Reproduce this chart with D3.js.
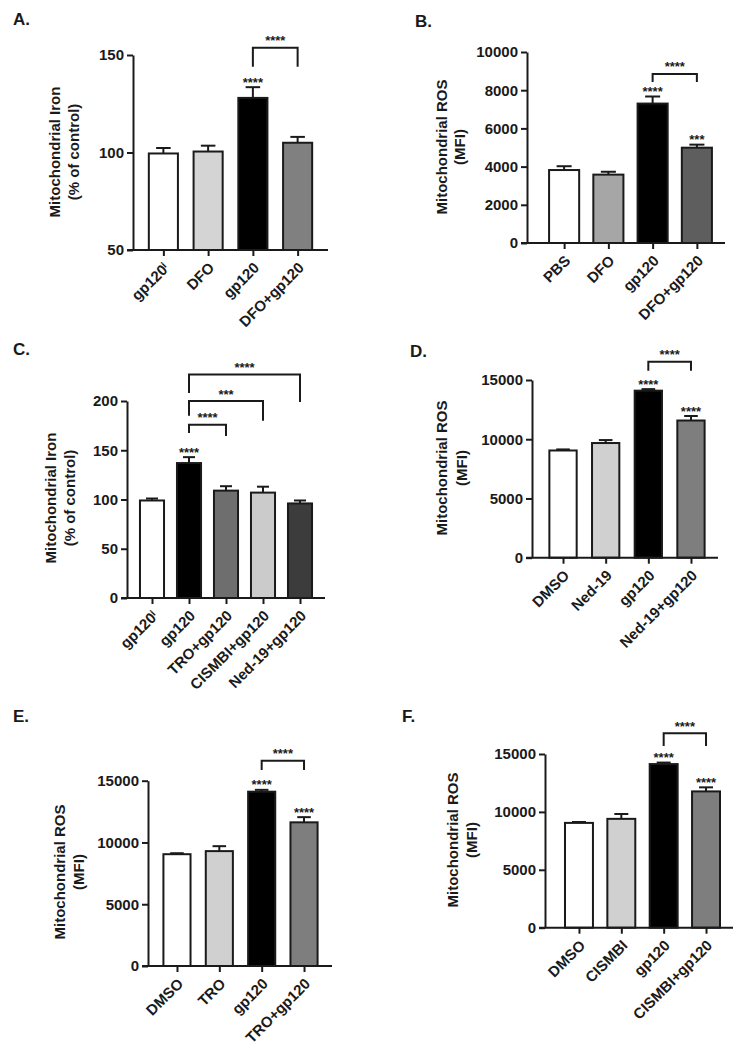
<!DOCTYPE html>
<html lang="en">
<head>
<meta charset="utf-8">
<title>Mitochondrial iron and ROS</title>
<script src="https://cdn.jsdelivr.net/npm/d3@7"></script>
<style>
  body { margin: 0; background: #fff; }
  svg text { font-family: "Liberation Sans", Arial, sans-serif; font-weight: bold; fill: #1a1a1a; }
</style>
</head>
<body>
<script>
// ---- data ----
// A. mitochondrial iron, DFO
var catsA = ["gp120ⁱ", "DFO", "gp120", "DFO+gp120"];
var valsA = [99.5, 100.5, 128, 105];
var errA = [2.8, 3, 5.5, 3];
var starsA = ["", "", "****", ""];
var ticksA = [50, 100, 150];
var ylabA = ["Mitochondrial Iron", "(% of control)"];
var bracketsA = [{from: 2, to: 3, top: 153.7, left: 144, right: 144, label: "****"}];

// B. mitochondrial ROS, DFO
var catsB = ["PBS", "DFO", "gp120", "DFO+gp120"];
var valsB = [3820, 3580, 7300, 4990];
var errB = [200, 150, 370, 160];
var starsB = ["", "", "****", "***"];
var ticksB = [0, 2000, 4000, 6000, 8000, 10000];
var ylabB = ["Mitochondrial ROS", "(MFI)"];
var bracketsB = [{from: 2, to: 3, top: 8850, left: 8430, right: 8430, label: "****"}];

// C. mitochondrial iron, TRO / CISMBI / Ned-19
var catsC = ["gp120ⁱ", "gp120", "TRO+gp120", "CISMBI+gp120", "Ned-19+gp120"];
var valsC = [99, 137, 109, 107, 96];
var errC = [2, 6, 4.5, 6, 3];
var starsC = ["", "****", "", "", ""];
var ticksC = [0, 50, 100, 150, 200];
var ylabC = ["Mitochondrial Iron", "(% of control)"];
var bracketsC = [
  {from: 1, to: 2, top: 176, left: 167.5, right: 164.5, label: "****"},
  {from: 1, to: 3, top: 200, left: 185, right: 180, label: "***"},
  {from: 1, to: 4, top: 227, left: 208, right: 199, label: "****"}
];

// D. mitochondrial ROS, Ned-19
var catsD = ["DMSO", "Ned-19", "gp120", "Ned-19+gp120"];
var valsD = [9050, 9680, 14100, 11580];
var errD = [90, 250, 130, 380];
var starsD = ["", "", "****", "****"];
var ticksD = [0, 5000, 10000, 15000];
var ylabD = ["Mitochondrial ROS", "(MFI)"];
var bracketsD = [{from: 2, to: 3, top: 16550, left: 15790, right: 15790, label: "****"}];

// E. mitochondrial ROS, TRO
var catsE = ["DMSO", "TRO", "gp120", "TRO+gp120"];
var valsE = [9050, 9300, 14110, 11630];
var errE = [80, 400, 150, 420];
var starsE = ["", "", "****", "****"];
var ticksE = [0, 5000, 10000, 15000];
var ylabE = ["Mitochondrial ROS", "(MFI)"];
var bracketsE = [{from: 2, to: 3, top: 16620, left: 15870, right: 15870, label: "****"}];

// F. mitochondrial ROS, CISMBI
var catsF = ["DMSO", "CISMBI", "gp120", "CISMBI+gp120"];
var valsF = [9050, 9400, 14130, 11770];
var errF = [80, 420, 130, 350];
var starsF = ["", "", "****", "****"];
var ticksF = [0, 5000, 10000, 15000];
var ylabF = ["Mitochondrial ROS", "(MFI)"];
var bracketsF = [{from: 2, to: 3, top: 16790, left: 15690, right: 15690, label: "****"}];

// ---- layout ----
var ink = "#1a1a1a";
var svg = d3.select("body").append("svg")
            .attr("width", 750)
            .attr("height", 1050);
svg.append("rect").attr("width", 750).attr("height", 1050).attr("fill", "#fff");

var panels = [
  {letter: "A.", lx: 13, ly: 25, cats: catsA, vals: valsA, err: errA, stars: starsA, ticks: ticksA, ylab: ylabA, brackets: bracketsA,
   colors: ["#ffffff", "#d4d4d4", "#000000", "#808080"],
   domain: [50, 150], y0: 250, y1: 55, ax: 133, xEnd: 328, x0: 141, x1: 320, barFrac: 0.65,
   lab1: 55, lab2: 74, labY: 152},
  {letter: "B.", lx: 415, ly: 27, cats: catsB, vals: valsB, err: errB, stars: starsB, ticks: ticksB, ylab: ylabB, brackets: bracketsB,
   colors: ["#ffffff", "#a6a6a6", "#000000", "#5e5e5e"],
   domain: [0, 10000], y0: 243, y1: 52, ax: 527, xEnd: 725, x0: 542, x1: 719, barFrac: 0.68,
   lab1: 442, lab2: 460, labY: 147},
  {letter: "C.", lx: 13, ly: 355, cats: catsC, vals: valsC, err: errC, stars: starsC, ticks: ticksC, ylab: ylabC, brackets: bracketsC,
   colors: ["#ffffff", "#000000", "#6e6e6e", "#cbcbcb", "#3c3c3c"],
   domain: [0, 200], y0: 598, y1: 401, ax: 127, xEnd: 325, x0: 133.5, x1: 318.5, barFrac: 0.65,
   lab1: 51, lab2: 70, labY: 498},
  {letter: "D.", lx: 410, ly: 357, cats: catsD, vals: valsD, err: errD, stars: starsD, ticks: ticksD, ylab: ylabD, brackets: bracketsD,
   colors: ["#ffffff", "#d0d0d0", "#000000", "#7e7e7e"],
   domain: [0, 15000], y0: 557.7, y1: 380, ax: 532, xEnd: 718, x0: 541.7, x1: 712.3, barFrac: 0.64,
   lab1: 442, lab2: 462, labY: 468},
  {letter: "E.", lx: 13, ly: 722, cats: catsE, vals: valsE, err: errE, stars: starsE, ticks: ticksE, ylab: ylabE, brackets: bracketsE,
   colors: ["#ffffff", "#d0d0d0", "#000000", "#7e7e7e"],
   domain: [0, 15000], y0: 966, y1: 780.7, ax: 148, xEnd: 332, x0: 155.8, x1: 325.2, barFrac: 0.64,
   lab1: 60, lab2: 79, labY: 872},
  {letter: "F.", lx: 402, ly: 722, cats: catsF, vals: valsF, err: errF, stars: starsF, ticks: ticksF, ylab: ylabF, brackets: bracketsF,
   colors: ["#ffffff", "#d0d0d0", "#000000", "#7e7e7e"],
   domain: [0, 15000], y0: 927.7, y1: 754, ax: 545, xEnd: 733, x0: 557.8, x1: 727.2, barFrac: 0.66,
   lab1: 453, lab2: 472, labY: 840}
];

var drawPanel = function(p) {
  var g = svg.append("g");
  var y = d3.scaleLinear().domain(p.domain).range([p.y0, p.y1]);
  var x = d3.scalePoint().domain(d3.range(p.cats.length)).range([p.x0, p.x1]).padding(0.5);
  var bw = x.step() * p.barFrac;

  // bars
  g.selectAll("rect.bar")
    .data(p.vals)
    .enter()
    .append("rect")
    .attr("class", "bar")
    .attr("x", function(d, i) { return x(i) - bw/2; })
    .attr("y", function(d) { return y(d); })
    .attr("width", bw)
    .attr("height", function(d) { return y(p.domain[0]) - y(d); })
    .attr("fill", function(d, i) { return p.colors[i]; })
    .attr("stroke", ink)
    .attr("stroke-width", 2);

  // error bars (upper only)
  var eb = g.selectAll("g.err")
    .data(p.vals)
    .enter()
    .append("g")
    .attr("class", "err")
    .attr("stroke", ink)
    .attr("stroke-width", 2);
  eb.append("line")
    .attr("x1", function(d, i) { return x(i); })
    .attr("x2", function(d, i) { return x(i); })
    .attr("y1", function(d) { return y(d); })
    .attr("y2", function(d, i) { return y(d + p.err[i]); });
  eb.append("line")
    .attr("x1", function(d, i) { return x(i) - bw/4; })
    .attr("x2", function(d, i) { return x(i) + bw/4; })
    .attr("y1", function(d, i) { return y(d + p.err[i]); })
    .attr("y2", function(d, i) { return y(d + p.err[i]); });

  // stars over bars
  g.selectAll("text.star")
    .data(p.stars)
    .enter()
    .append("text")
    .attr("class", "star")
    .attr("x", function(d, i) { return x(i); })
    .attr("y", function(d, i) { return y(p.vals[i] + p.err[i]) - 8 + 7.5; })
    .attr("text-anchor", "middle")
    .attr("font-size", 13)
    .text(function(d) { return d; });

  // comparison brackets
  var br = g.selectAll("g.bracket")
    .data(p.brackets)
    .enter()
    .append("g")
    .attr("class", "bracket");
  br.append("path")
    .attr("fill", "none")
    .attr("stroke", ink)
    .attr("stroke-width", 2)
    .attr("d", function(b) {
      return "M" + x(b.from) + "," + y(b.left) + "V" + y(b.top) +
             "H" + x(b.to) + "V" + y(b.right);
    });
  br.append("text")
    .attr("x", function(b) { return (x(b.from) + x(b.to)) / 2; })
    .attr("y", function(b) { return y(b.top) - 10 + 7.5; })
    .attr("text-anchor", "middle")
    .attr("font-size", 13)
    .text(function(b) { return b.label; });

  // y axis
  var ya = g.append("g")
    .attr("transform", "translate(" + p.ax + ",0)")
    .call(d3.axisLeft(y).tickValues(p.ticks).tickSize(6).tickSizeOuter(0).tickPadding(3).tickFormat(d3.format("d")));
  ya.attr("color", ink).attr("font-size", 15);
  ya.selectAll("path, line").attr("stroke-width", 2);

  // x axis
  var xa = g.append("g")
    .attr("transform", "translate(0," + p.y0 + ")")
    .call(d3.axisBottom(x).tickSize(6).tickSizeOuter(0).tickFormat(function(i) { return p.cats[i]; }));
  xa.attr("color", ink).attr("font-size", 15);
  xa.select(".domain").remove();
  xa.selectAll("line").attr("stroke-width", 2);
  xa.selectAll("text")
    .attr("y", 0)
    .attr("dy", "0.35em")
    .attr("text-anchor", "end")
    .attr("transform", "translate(3,15) rotate(-45)");
  g.append("line")
    .attr("x1", p.ax - 6)
    .attr("x2", p.xEnd)
    .attr("y1", p.y0)
    .attr("y2", p.y0)
    .attr("stroke", ink)
    .attr("stroke-width", 2);

  // y label (two lines)
  [p.lab1, p.lab2].forEach(function(cx, k) {
    g.append("text")
      .attr("transform", "translate(" + cx + "," + p.labY + ") rotate(-90)")
      .attr("dy", "0.35em")
      .attr("text-anchor", "middle")
      .attr("font-size", 15)
      .text(p.ylab[k]);
  });

  // panel letter
  g.append("text")
    .attr("x", p.lx)
    .attr("y", p.ly)
    .attr("font-size", 17)
    .text(p.letter);
};

panels.forEach(drawPanel);
</script>
</body>
</html>
